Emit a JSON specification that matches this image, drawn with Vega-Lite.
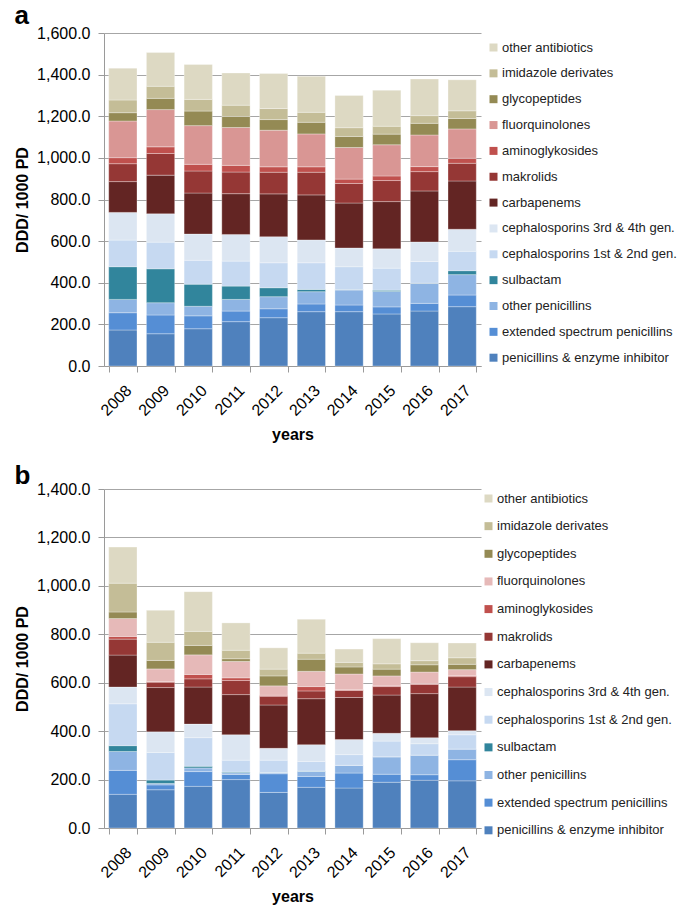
{
  "$schema": "https://vega.github.io/schema/vega-lite/v6.json",
  "padding": {"left": 14, "top": 3, "right": 0, "bottom": 0},
  "background": "white",
  "config": {
    "font": "Liberation Sans",
    "view": {"stroke": null},
    "axis": {
      "labelFont": "Liberation Sans", "labelFontSize": 16, "labelColor": "#000000",
      "titleFont": "Liberation Sans", "titleFontSize": 16, "titleFontWeight": "bold", "titleColor": "#000000",
      "domainColor": "#9a9a9a", "tickColor": "#9a9a9a", "gridColor": "#a6a6a6", "tickSize": 6
    },
    "legend": {"labelFont": "Liberation Sans", "labelFontSize": 13, "labelColor": "#222222", "labelLimit": 300, "symbolType": "square", "symbolSize": 64, "symbolStrokeWidth": 0, "labelOffset": 2},
    "title": {"font": "Liberation Sans", "fontSize": 26, "fontWeight": "bold", "color": "#000000", "anchor": "start", "frame": "bounds"}
  },
  "datasets": {
    "cats": [
      {"cat": "penicillins & enzyme inhibitor", "k": 1},
      {"cat": "extended spectrum penicillins", "k": 2},
      {"cat": "other penicillins", "k": 3},
      {"cat": "sulbactam", "k": 4},
      {"cat": "cephalosporins 1st & 2nd gen.", "k": 5},
      {"cat": "cephalosporins 3rd & 4th gen.", "k": 6},
      {"cat": "carbapenems", "k": 7},
      {"cat": "makrolids", "k": 8},
      {"cat": "aminoglykosides", "k": 9},
      {"cat": "fluorquinolones", "k": 10},
      {"cat": "glycopeptides", "k": 11},
      {"cat": "imidazole derivates", "k": 12},
      {"cat": "other antibiotics", "k": 13}
    ],
    "a": [
      {"year": "2008", "cat": "penicillins & enzyme inhibitor", "v": 173},
      {"year": "2008", "cat": "extended spectrum penicillins", "v": 83},
      {"year": "2008", "cat": "other penicillins", "v": 64},
      {"year": "2008", "cat": "sulbactam", "v": 157},
      {"year": "2008", "cat": "cephalosporins 1st & 2nd gen.", "v": 128},
      {"year": "2008", "cat": "cephalosporins 3rd & 4th gen.", "v": 133},
      {"year": "2008", "cat": "carbapenems", "v": 148},
      {"year": "2008", "cat": "makrolids", "v": 86},
      {"year": "2008", "cat": "aminoglykosides", "v": 29},
      {"year": "2008", "cat": "fluorquinolones", "v": 176},
      {"year": "2008", "cat": "glycopeptides", "v": 40},
      {"year": "2008", "cat": "imidazole derivates", "v": 61},
      {"year": "2008", "cat": "other antibiotics", "v": 153},
      {"year": "2009", "cat": "penicillins & enzyme inhibitor", "v": 155},
      {"year": "2009", "cat": "extended spectrum penicillins", "v": 90},
      {"year": "2009", "cat": "other penicillins", "v": 59},
      {"year": "2009", "cat": "sulbactam", "v": 163},
      {"year": "2009", "cat": "cephalosporins 1st & 2nd gen.", "v": 128},
      {"year": "2009", "cat": "cephalosporins 3rd & 4th gen.", "v": 136},
      {"year": "2009", "cat": "carbapenems", "v": 186},
      {"year": "2009", "cat": "makrolids", "v": 104},
      {"year": "2009", "cat": "aminoglykosides", "v": 32},
      {"year": "2009", "cat": "fluorquinolones", "v": 179},
      {"year": "2009", "cat": "glycopeptides", "v": 54},
      {"year": "2009", "cat": "imidazole derivates", "v": 58},
      {"year": "2009", "cat": "other antibiotics", "v": 162},
      {"year": "2010", "cat": "penicillins & enzyme inhibitor", "v": 179},
      {"year": "2010", "cat": "extended spectrum penicillins", "v": 62},
      {"year": "2010", "cat": "other penicillins", "v": 46},
      {"year": "2010", "cat": "sulbactam", "v": 106},
      {"year": "2010", "cat": "cephalosporins 1st & 2nd gen.", "v": 115},
      {"year": "2010", "cat": "cephalosporins 3rd & 4th gen.", "v": 126},
      {"year": "2010", "cat": "carbapenems", "v": 197},
      {"year": "2010", "cat": "makrolids", "v": 106},
      {"year": "2010", "cat": "aminoglykosides", "v": 32},
      {"year": "2010", "cat": "fluorquinolones", "v": 186},
      {"year": "2010", "cat": "glycopeptides", "v": 70},
      {"year": "2010", "cat": "imidazole derivates", "v": 56},
      {"year": "2010", "cat": "other antibiotics", "v": 168},
      {"year": "2011", "cat": "penicillins & enzyme inhibitor", "v": 213},
      {"year": "2011", "cat": "extended spectrum penicillins", "v": 51},
      {"year": "2011", "cat": "other penicillins", "v": 56},
      {"year": "2011", "cat": "sulbactam", "v": 64},
      {"year": "2011", "cat": "cephalosporins 1st & 2nd gen.", "v": 120},
      {"year": "2011", "cat": "cephalosporins 3rd & 4th gen.", "v": 128},
      {"year": "2011", "cat": "carbapenems", "v": 196},
      {"year": "2011", "cat": "makrolids", "v": 104},
      {"year": "2011", "cat": "aminoglykosides", "v": 32},
      {"year": "2011", "cat": "fluorquinolones", "v": 182},
      {"year": "2011", "cat": "glycopeptides", "v": 53},
      {"year": "2011", "cat": "imidazole derivates", "v": 54},
      {"year": "2011", "cat": "other antibiotics", "v": 155},
      {"year": "2012", "cat": "penicillins & enzyme inhibitor", "v": 232},
      {"year": "2012", "cat": "extended spectrum penicillins", "v": 43},
      {"year": "2012", "cat": "other penicillins", "v": 58},
      {"year": "2012", "cat": "sulbactam", "v": 43},
      {"year": "2012", "cat": "cephalosporins 1st & 2nd gen.", "v": 120},
      {"year": "2012", "cat": "cephalosporins 3rd & 4th gen.", "v": 125},
      {"year": "2012", "cat": "carbapenems", "v": 206},
      {"year": "2012", "cat": "makrolids", "v": 104},
      {"year": "2012", "cat": "aminoglykosides", "v": 26},
      {"year": "2012", "cat": "fluorquinolones", "v": 176},
      {"year": "2012", "cat": "glycopeptides", "v": 51},
      {"year": "2012", "cat": "imidazole derivates", "v": 53},
      {"year": "2012", "cat": "other antibiotics", "v": 168},
      {"year": "2013", "cat": "penicillins & enzyme inhibitor", "v": 261},
      {"year": "2013", "cat": "extended spectrum penicillins", "v": 37},
      {"year": "2013", "cat": "other penicillins", "v": 59},
      {"year": "2013", "cat": "sulbactam", "v": 11},
      {"year": "2013", "cat": "cephalosporins 1st & 2nd gen.", "v": 128},
      {"year": "2013", "cat": "cephalosporins 3rd & 4th gen.", "v": 110},
      {"year": "2013", "cat": "carbapenems", "v": 216},
      {"year": "2013", "cat": "makrolids", "v": 109},
      {"year": "2013", "cat": "aminoglykosides", "v": 26},
      {"year": "2013", "cat": "fluorquinolones", "v": 158},
      {"year": "2013", "cat": "glycopeptides", "v": 56},
      {"year": "2013", "cat": "imidazole derivates", "v": 48},
      {"year": "2013", "cat": "other antibiotics", "v": 173},
      {"year": "2014", "cat": "penicillins & enzyme inhibitor", "v": 261},
      {"year": "2014", "cat": "extended spectrum penicillins", "v": 32},
      {"year": "2014", "cat": "other penicillins", "v": 72},
      {"year": "2014", "cat": "sulbactam", "v": 2},
      {"year": "2014", "cat": "cephalosporins 1st & 2nd gen.", "v": 110},
      {"year": "2014", "cat": "cephalosporins 3rd & 4th gen.", "v": 90},
      {"year": "2014", "cat": "carbapenems", "v": 216},
      {"year": "2014", "cat": "makrolids", "v": 94},
      {"year": "2014", "cat": "aminoglykosides", "v": 21},
      {"year": "2014", "cat": "fluorquinolones", "v": 152},
      {"year": "2014", "cat": "glycopeptides", "v": 53},
      {"year": "2014", "cat": "imidazole derivates", "v": 42},
      {"year": "2014", "cat": "other antibiotics", "v": 155},
      {"year": "2015", "cat": "penicillins & enzyme inhibitor", "v": 250},
      {"year": "2015", "cat": "extended spectrum penicillins", "v": 34},
      {"year": "2015", "cat": "other penicillins", "v": 74},
      {"year": "2015", "cat": "sulbactam", "v": 6},
      {"year": "2015", "cat": "cephalosporins 1st & 2nd gen.", "v": 106},
      {"year": "2015", "cat": "cephalosporins 3rd & 4th gen.", "v": 93},
      {"year": "2015", "cat": "carbapenems", "v": 227},
      {"year": "2015", "cat": "makrolids", "v": 101},
      {"year": "2015", "cat": "aminoglykosides", "v": 22},
      {"year": "2015", "cat": "fluorquinolones", "v": 150},
      {"year": "2015", "cat": "glycopeptides", "v": 51},
      {"year": "2015", "cat": "imidazole derivates", "v": 38},
      {"year": "2015", "cat": "other antibiotics", "v": 173},
      {"year": "2016", "cat": "penicillins & enzyme inhibitor", "v": 264},
      {"year": "2016", "cat": "extended spectrum penicillins", "v": 37},
      {"year": "2016", "cat": "other penicillins", "v": 96},
      {"year": "2016", "cat": "sulbactam", "v": 1},
      {"year": "2016", "cat": "cephalosporins 1st & 2nd gen.", "v": 104},
      {"year": "2016", "cat": "cephalosporins 3rd & 4th gen.", "v": 94},
      {"year": "2016", "cat": "carbapenems", "v": 245},
      {"year": "2016", "cat": "makrolids", "v": 93},
      {"year": "2016", "cat": "aminoglykosides", "v": 24},
      {"year": "2016", "cat": "fluorquinolones", "v": 152},
      {"year": "2016", "cat": "glycopeptides", "v": 56},
      {"year": "2016", "cat": "imidazole derivates", "v": 37},
      {"year": "2016", "cat": "other antibiotics", "v": 176},
      {"year": "2017", "cat": "penicillins & enzyme inhibitor", "v": 285},
      {"year": "2017", "cat": "extended spectrum penicillins", "v": 56},
      {"year": "2017", "cat": "other penicillins", "v": 98},
      {"year": "2017", "cat": "sulbactam", "v": 19},
      {"year": "2017", "cat": "cephalosporins 1st & 2nd gen.", "v": 93},
      {"year": "2017", "cat": "cephalosporins 3rd & 4th gen.", "v": 106},
      {"year": "2017", "cat": "carbapenems", "v": 232},
      {"year": "2017", "cat": "makrolids", "v": 85},
      {"year": "2017", "cat": "aminoglykosides", "v": 24},
      {"year": "2017", "cat": "fluorquinolones", "v": 141},
      {"year": "2017", "cat": "glycopeptides", "v": 50},
      {"year": "2017", "cat": "imidazole derivates", "v": 37},
      {"year": "2017", "cat": "other antibiotics", "v": 149}
    ],
    "b": [
      {"year": "2008", "cat": "penicillins & enzyme inhibitor", "v": 139},
      {"year": "2008", "cat": "extended spectrum penicillins", "v": 99},
      {"year": "2008", "cat": "other penicillins", "v": 78},
      {"year": "2008", "cat": "sulbactam", "v": 24},
      {"year": "2008", "cat": "cephalosporins 1st & 2nd gen.", "v": 173},
      {"year": "2008", "cat": "cephalosporins 3rd & 4th gen.", "v": 69},
      {"year": "2008", "cat": "carbapenems", "v": 132},
      {"year": "2008", "cat": "makrolids", "v": 66},
      {"year": "2008", "cat": "aminoglykosides", "v": 11},
      {"year": "2008", "cat": "fluorquinolones", "v": 74},
      {"year": "2008", "cat": "glycopeptides", "v": 27},
      {"year": "2008", "cat": "imidazole derivates", "v": 119},
      {"year": "2008", "cat": "other antibiotics", "v": 149},
      {"year": "2009", "cat": "penicillins & enzyme inhibitor", "v": 158},
      {"year": "2009", "cat": "extended spectrum penicillins", "v": 20},
      {"year": "2009", "cat": "other penicillins", "v": 6},
      {"year": "2009", "cat": "sulbactam", "v": 14},
      {"year": "2009", "cat": "cephalosporins 1st & 2nd gen.", "v": 114},
      {"year": "2009", "cat": "cephalosporins 3rd & 4th gen.", "v": 85},
      {"year": "2009", "cat": "carbapenems", "v": 183},
      {"year": "2009", "cat": "makrolids", "v": 22},
      {"year": "2009", "cat": "aminoglykosides", "v": 3},
      {"year": "2009", "cat": "fluorquinolones", "v": 52},
      {"year": "2009", "cat": "glycopeptides", "v": 35},
      {"year": "2009", "cat": "imidazole derivates", "v": 75},
      {"year": "2009", "cat": "other antibiotics", "v": 132},
      {"year": "2010", "cat": "penicillins & enzyme inhibitor", "v": 172},
      {"year": "2010", "cat": "extended spectrum penicillins", "v": 61},
      {"year": "2010", "cat": "other penicillins", "v": 15},
      {"year": "2010", "cat": "sulbactam", "v": 7},
      {"year": "2010", "cat": "cephalosporins 1st & 2nd gen.", "v": 118},
      {"year": "2010", "cat": "cephalosporins 3rd & 4th gen.", "v": 56},
      {"year": "2010", "cat": "carbapenems", "v": 153},
      {"year": "2010", "cat": "makrolids", "v": 34},
      {"year": "2010", "cat": "aminoglykosides", "v": 18},
      {"year": "2010", "cat": "fluorquinolones", "v": 81},
      {"year": "2010", "cat": "glycopeptides", "v": 39},
      {"year": "2010", "cat": "imidazole derivates", "v": 58},
      {"year": "2010", "cat": "other antibiotics", "v": 164},
      {"year": "2011", "cat": "penicillins & enzyme inhibitor", "v": 200},
      {"year": "2011", "cat": "extended spectrum penicillins", "v": 21},
      {"year": "2011", "cat": "other penicillins", "v": 7},
      {"year": "2011", "cat": "sulbactam", "v": 3},
      {"year": "2011", "cat": "cephalosporins 1st & 2nd gen.", "v": 49},
      {"year": "2011", "cat": "cephalosporins 3rd & 4th gen.", "v": 105},
      {"year": "2011", "cat": "carbapenems", "v": 166},
      {"year": "2011", "cat": "makrolids", "v": 58},
      {"year": "2011", "cat": "aminoglykosides", "v": 11},
      {"year": "2011", "cat": "fluorquinolones", "v": 68},
      {"year": "2011", "cat": "glycopeptides", "v": 11},
      {"year": "2011", "cat": "imidazole derivates", "v": 35},
      {"year": "2011", "cat": "other antibiotics", "v": 113},
      {"year": "2012", "cat": "penicillins & enzyme inhibitor", "v": 147},
      {"year": "2012", "cat": "extended spectrum penicillins", "v": 77},
      {"year": "2012", "cat": "other penicillins", "v": 4},
      {"year": "2012", "cat": "sulbactam", "v": 1},
      {"year": "2012", "cat": "cephalosporins 1st & 2nd gen.", "v": 51},
      {"year": "2012", "cat": "cephalosporins 3rd & 4th gen.", "v": 49},
      {"year": "2012", "cat": "carbapenems", "v": 179},
      {"year": "2012", "cat": "makrolids", "v": 36},
      {"year": "2012", "cat": "aminoglykosides", "v": 4},
      {"year": "2012", "cat": "fluorquinolones", "v": 39},
      {"year": "2012", "cat": "glycopeptides", "v": 41},
      {"year": "2012", "cat": "imidazole derivates", "v": 28},
      {"year": "2012", "cat": "other antibiotics", "v": 88},
      {"year": "2013", "cat": "penicillins & enzyme inhibitor", "v": 168},
      {"year": "2013", "cat": "extended spectrum penicillins", "v": 45},
      {"year": "2013", "cat": "other penicillins", "v": 21},
      {"year": "2013", "cat": "sulbactam", "v": 1},
      {"year": "2013", "cat": "cephalosporins 1st & 2nd gen.", "v": 40},
      {"year": "2013", "cat": "cephalosporins 3rd & 4th gen.", "v": 69},
      {"year": "2013", "cat": "carbapenems", "v": 190},
      {"year": "2013", "cat": "makrolids", "v": 32},
      {"year": "2013", "cat": "aminoglykosides", "v": 18},
      {"year": "2013", "cat": "fluorquinolones", "v": 63},
      {"year": "2013", "cat": "glycopeptides", "v": 50},
      {"year": "2013", "cat": "imidazole derivates", "v": 25},
      {"year": "2013", "cat": "other antibiotics", "v": 140},
      {"year": "2014", "cat": "penicillins & enzyme inhibitor", "v": 165},
      {"year": "2014", "cat": "extended spectrum penicillins", "v": 62},
      {"year": "2014", "cat": "other penicillins", "v": 32},
      {"year": "2014", "cat": "sulbactam", "v": 0},
      {"year": "2014", "cat": "cephalosporins 1st & 2nd gen.", "v": 44},
      {"year": "2014", "cat": "cephalosporins 3rd & 4th gen.", "v": 62},
      {"year": "2014", "cat": "carbapenems", "v": 174},
      {"year": "2014", "cat": "makrolids", "v": 29},
      {"year": "2014", "cat": "aminoglykosides", "v": 3},
      {"year": "2014", "cat": "fluorquinolones", "v": 65},
      {"year": "2014", "cat": "glycopeptides", "v": 29},
      {"year": "2014", "cat": "imidazole derivates", "v": 19},
      {"year": "2014", "cat": "other antibiotics", "v": 55},
      {"year": "2015", "cat": "penicillins & enzyme inhibitor", "v": 189},
      {"year": "2015", "cat": "extended spectrum penicillins", "v": 33},
      {"year": "2015", "cat": "other penicillins", "v": 72},
      {"year": "2015", "cat": "sulbactam", "v": 0},
      {"year": "2015", "cat": "cephalosporins 1st & 2nd gen.", "v": 65},
      {"year": "2015", "cat": "cephalosporins 3rd & 4th gen.", "v": 32},
      {"year": "2015", "cat": "carbapenems", "v": 158},
      {"year": "2015", "cat": "makrolids", "v": 35},
      {"year": "2015", "cat": "aminoglykosides", "v": 3},
      {"year": "2015", "cat": "fluorquinolones", "v": 41},
      {"year": "2015", "cat": "glycopeptides", "v": 28},
      {"year": "2015", "cat": "imidazole derivates", "v": 22},
      {"year": "2015", "cat": "other antibiotics", "v": 104},
      {"year": "2016", "cat": "penicillins & enzyme inhibitor", "v": 197},
      {"year": "2016", "cat": "extended spectrum penicillins", "v": 23},
      {"year": "2016", "cat": "other penicillins", "v": 81},
      {"year": "2016", "cat": "sulbactam", "v": 0},
      {"year": "2016", "cat": "cephalosporins 1st & 2nd gen.", "v": 47},
      {"year": "2016", "cat": "cephalosporins 3rd & 4th gen.", "v": 25},
      {"year": "2016", "cat": "carbapenems", "v": 182},
      {"year": "2016", "cat": "makrolids", "v": 38},
      {"year": "2016", "cat": "aminoglykosides", "v": 3},
      {"year": "2016", "cat": "fluorquinolones", "v": 48},
      {"year": "2016", "cat": "glycopeptides", "v": 30},
      {"year": "2016", "cat": "imidazole derivates", "v": 17},
      {"year": "2016", "cat": "other antibiotics", "v": 74},
      {"year": "2017", "cat": "penicillins & enzyme inhibitor", "v": 195},
      {"year": "2017", "cat": "extended spectrum penicillins", "v": 87},
      {"year": "2017", "cat": "other penicillins", "v": 44},
      {"year": "2017", "cat": "sulbactam", "v": 0},
      {"year": "2017", "cat": "cephalosporins 1st & 2nd gen.", "v": 59},
      {"year": "2017", "cat": "cephalosporins 3rd & 4th gen.", "v": 17},
      {"year": "2017", "cat": "carbapenems", "v": 180},
      {"year": "2017", "cat": "makrolids", "v": 43},
      {"year": "2017", "cat": "aminoglykosides", "v": 4},
      {"year": "2017", "cat": "fluorquinolones", "v": 25},
      {"year": "2017", "cat": "glycopeptides", "v": 22},
      {"year": "2017", "cat": "imidazole derivates", "v": 27},
      {"year": "2017", "cat": "other antibiotics", "v": 61}
    ]
  },
  "resolve": {"scale": {"color": "independent"}, "legend": {"color": "independent"}},
  "spacing": 20,
  "vconcat": [
    {
      "width": 377, "height": 333,
      "title": {"text": "a", "offset": -4},
      "data": {"name": "a"},
      "transform": [{"lookup": "cat", "from": {"data": {"name": "cats"}, "key": "cat", "fields": ["k"]}}],
      "mark": {"type": "bar", "stroke": "#ffffff", "strokeWidth": 0.6, "strokeOpacity": 0.5},
      "encoding": {
        "x": {"field": "year", "type": "ordinal", "scale": {"paddingInner": 0.25, "paddingOuter": 0.125},
              "axis": {"title": "years", "labelAngle": -45, "tickBand": "extent", "labelPadding": 10, "titlePadding": 8}},
        "y": {"field": "v", "type": "quantitative", "stack": "zero", "scale": {"domain": [0, 1600], "nice": false},
              "axis": {"title": "DDD/ 1000 PD", "format": ",.1f", "values": [0, 200, 400, 600, 800, 1000, 1200, 1400, 1600], "labelPadding": 8, "titlePadding": 6}},
        "order": {"field": "k", "type": "quantitative", "sort": "ascending"},
        "color": {"field": "cat", "type": "nominal",
          "sort": ["other antibiotics", "imidazole derivates", "glycopeptides", "fluorquinolones", "aminoglykosides", "makrolids", "carbapenems", "cephalosporins 3rd & 4th gen.", "cephalosporins 1st & 2nd gen.", "sulbactam", "other penicillins", "extended spectrum penicillins", "penicillins & enzyme inhibitor"],
          "scale": {"domain": ["other antibiotics", "imidazole derivates", "glycopeptides", "fluorquinolones", "aminoglykosides", "makrolids", "carbapenems", "cephalosporins 3rd & 4th gen.", "cephalosporins 1st & 2nd gen.", "sulbactam", "other penicillins", "extended spectrum penicillins", "penicillins & enzyme inhibitor"],
                    "range": ["#DDD9C3", "#C4BD97", "#948A54", "#D99694", "#C0504D", "#953735", "#632523", "#DCE6F2", "#C6D9F1", "#31859C", "#8EB4E3", "#558ED5", "#4F81BD"]},
          "legend": {"title": null, "offset": -2, "padding": 8, "rowPadding": 11.85}}
      }
    },
    {
      "width": 377, "height": 339,
      "title": {"text": "b", "offset": -8},
      "data": {"name": "b"},
      "transform": [{"lookup": "cat", "from": {"data": {"name": "cats"}, "key": "cat", "fields": ["k"]}}],
      "mark": {"type": "bar", "stroke": "#ffffff", "strokeWidth": 0.6, "strokeOpacity": 0.5},
      "encoding": {
        "x": {"field": "year", "type": "ordinal", "scale": {"paddingInner": 0.25, "paddingOuter": 0.125},
              "axis": {"title": "years", "labelAngle": -45, "tickBand": "extent", "labelPadding": 10, "titlePadding": 8}},
        "y": {"field": "v", "type": "quantitative", "stack": "zero", "scale": {"domain": [0, 1400], "nice": false},
              "axis": {"title": "DDD/ 1000 PD", "format": ",.1f", "values": [0, 200, 400, 600, 800, 1000, 1200, 1400], "labelPadding": 8, "titlePadding": 6}},
        "order": {"field": "k", "type": "quantitative", "sort": "ascending"},
        "color": {"field": "cat", "type": "nominal",
          "sort": ["other antibiotics", "imidazole derivates", "glycopeptides", "fluorquinolones", "aminoglykosides", "makrolids", "carbapenems", "cephalosporins 3rd & 4th gen.", "cephalosporins 1st & 2nd gen.", "sulbactam", "other penicillins", "extended spectrum penicillins", "penicillins & enzyme inhibitor"],
          "scale": {"domain": ["other antibiotics", "imidazole derivates", "glycopeptides", "fluorquinolones", "aminoglykosides", "makrolids", "carbapenems", "cephalosporins 3rd & 4th gen.", "cephalosporins 1st & 2nd gen.", "sulbactam", "other penicillins", "extended spectrum penicillins", "penicillins & enzyme inhibitor"],
                    "range": ["#DDD9C3", "#C4BD97", "#948A54", "#E6B9B8", "#C0504D", "#953735", "#632523", "#DCE6F2", "#C6D9F1", "#31859C", "#8EB4E3", "#558ED5", "#4F81BD"]},
          "legend": {"title": null, "offset": -2, "padding": 3, "rowPadding": 13.65}}
      }
    }
  ]
}
